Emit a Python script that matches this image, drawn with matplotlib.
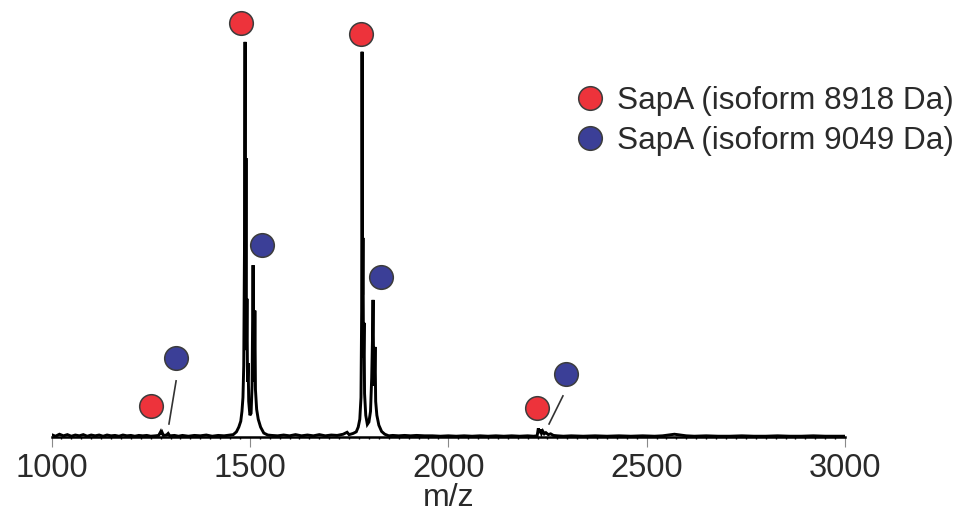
import matplotlib
matplotlib.use('Agg')
import matplotlib.pyplot as plt
from matplotlib.lines import Line2D
from matplotlib.ticker import MultipleLocator

plt.rcParams['font.family'] = ['Liberation Sans', 'DejaVu Sans']

# baseline (m/z, relative intensity)
base_mz = [1000, 1010, 1020, 1030, 1040, 1050, 1060, 1070, 1080, 1090, 1100, 1110, 1120,
           1130, 1140, 1150, 1160, 1170, 1180, 1190, 1200, 1210, 1220, 1230, 1240, 1250,
           1330, 1345, 1360, 1375, 1390, 1405, 1420, 1435, 1450,
           1555, 1570, 1585, 1600, 1615, 1630, 1645, 1660, 1675, 1690, 1705, 1720, 1735, 1745, 1750,
           1860, 1875, 1890, 1905, 1920, 1940, 1960, 1980, 2000, 2020, 2040, 2060, 2080, 2100,
           2120, 2140, 2160, 2180, 2200, 2215,
           2290, 2310, 2340, 2370, 2400, 2430, 2460, 2490, 2520, 2540, 2555, 2570, 2585, 2600,
           2620, 2650, 2680, 2710, 2740, 2770, 2800, 2830, 2860, 2890, 2920, 2950, 2980, 3000]
base_int = [0.6, 0.2, 0.7, 0.3, 0.6, 0.2, 0.5, 0.3, 0.6, 0.2, 0.5, 0.3, 0.5,
            0.2, 0.5, 0.3, 0.4, 0.2, 0.5, 0.3, 0.4, 0.2, 0.4, 0.3, 0.4, 0.2,
            0.4, 0.2, 0.4, 0.3, 0.5, 0.2, 0.4, 0.3, 0.5,
            0.4, 0.3, 0.5, 0.3, 0.6, 0.3, 0.5, 0.3, 0.6, 0.3, 0.5, 0.4, 0.7, 1.2, 0.6,
            0.4, 0.3, 0.4, 0.3, 0.4, 0.3, 0.3, 0.2, 0.3, 0.2, 0.3, 0.2, 0.3, 0.2,
            0.3, 0.2, 0.3, 0.2, 0.3, 0.2,
            0.2, 0.3, 0.2, 0.3, 0.2, 0.3, 0.2, 0.3, 0.2, 0.3, 0.5, 0.7, 0.5, 0.3,
            0.2, 0.3, 0.2, 0.2, 0.3, 0.2, 0.2, 0.3, 0.2, 0.2, 0.3, 0.2, 0.2, 0.2]

# z=7 ions
z7_mz = [1262, 1270, 1275, 1277, 1279, 1282, 1290, 1294, 1298, 1310, 1320]
z7_int = [0.3, 0.4, 1.3, 0.6, 1.1, 0.4, 0.5, 0.9, 0.3, 0.4, 0.2]

# z=6 ions
z6_mz = [1458, 1466, 1472, 1477, 1480, 1482.5, 1484.5, 1486.5, 1487.8, 1489.0, 1490.2,
         1491.3, 1492.6, 1494.0, 1495.5, 1497.0, 1500.0, 1503.0, 1505.5, 1507.0, 1508.0,
         1509.5, 1511.0, 1512.5, 1514.0, 1517.0, 1521.0, 1527.0, 1535.0, 1545.0]
z6_int = [0.6, 1.3, 2.5, 4.0, 6.5, 10.0, 18.0, 50.0, 100.0, 32.0, 70.6,
          22.0, 35.0, 14.0, 18.7, 9.0, 5.5, 6.0, 13.0, 30.0, 43.5,
          22.0, 14.0, 32.0, 12.0, 7.0, 4.5, 2.5, 1.0, 0.5]

# z=5 ions
z5_mz = [1760, 1768, 1773, 1777, 1780, 1781.7, 1782.7, 1784.0, 1785.0, 1786.3, 1787.7,
         1789.0, 1792.0, 1796.0, 1800.0, 1804.0, 1807.0, 1809.0, 1810.4, 1812.0, 1813.5,
         1815.4, 1817.0, 1820.0, 1825.0, 1832.0, 1840.0, 1850.0]
z5_int = [0.9, 1.3, 2.5, 4.5, 10.0, 32.0, 97.5, 36.0, 50.4, 20.0, 28.9,
          11.0, 5.5, 3.2, 3.8, 6.5, 15.0, 25.0, 34.7, 16.0, 13.0,
          22.8, 9.0, 5.5, 3.0, 1.4, 0.7, 0.3]

# z=4 ions
z4_mz = [2224, 2227, 2229, 2232, 2235, 2238, 2242, 2246, 2252, 2258, 2265, 2275]
z4_int = [0.3, 2.2, 1.0, 1.9, 0.9, 1.5, 0.8, 1.1, 0.6, 0.8, 0.4, 0.3]

# peak label positions (m/z, intensity)
red_mz = [1251, 1478, 1780, 2224]
red_y = [7.8, 104.8, 102.0, 7.3]
blue_mz = [1314, 1531, 1831, 2297]
blue_y = [20.0, 48.6, 40.5, 16.0]
leader_mz = [(1314, 1296), (2289, 2254)]
leader_y = [(14.2, 3.3), (10.4, 3.3)]

legend_labels = ['SapA (isoform 8918 Da)', 'SapA (isoform 9049 Da)']
red = '#ed333b'
blue = '#3b3f97'
edge = '#3c3c3c'

pts = sorted(zip(base_mz + z7_mz + z6_mz + z5_mz + z4_mz,
                 base_int + z7_int + z6_int + z5_int + z4_int))
mz = [p[0] for p in pts]
inten = [p[1] for p in pts]

fig = plt.figure(figsize=(9.63, 5.14), dpi=100)
ax = fig.add_axes([0.0535, 0.1498, 0.824, 0.8502])

ax.plot(mz, inten, color='black', lw=2.1, solid_joinstyle='miter')

for (x0, x1), (y0, y1) in zip(leader_mz, leader_y):
    ax.plot([x0, x1], [y0, y1], color='#333333', lw=1.2)

ax.plot(red_mz, red_y, 'o', ms=17, mfc=red, mec=edge, mew=1.1, clip_on=False, zorder=5)
ax.plot(blue_mz, blue_y, 'o', ms=17, mfc=blue, mec=edge, mew=1.1, clip_on=False, zorder=5)

ax.set_xlim(1000, 3000)
ax.set_ylim(0, 110.6)
for s in ['left', 'right', 'top']:
    ax.spines[s].set_visible(False)
ax.spines['bottom'].set_linewidth(1.8)
ax.set_yticks([])

ax.xaxis.set_major_locator(MultipleLocator(500))
ax.xaxis.set_minor_locator(MultipleLocator(25))
ax.tick_params(axis='x', which='major', direction='out', length=7.5, width=0.8,
               color='#8a8a8a', labelsize=23.5, labelcolor='#2a2a2a', pad=4)
ax.tick_params(axis='x', which='minor', direction='out', length=1.5, width=1.0, color='black')
ax.set_xlabel('m/z', fontsize=23, color='#2a2a2a', labelpad=-1)

handles = [Line2D([], [], ls='none', marker='o', ms=17, mfc=c, mec=edge, mew=1.1)
           for c in [red, blue]]
fig.legend(handles, legend_labels, loc='upper left', bbox_to_anchor=(0.600, 0.832),
           frameon=False, fontsize=22.7, handlelength=0.75, handletextpad=0.5,
           labelspacing=0.32, borderpad=0, borderaxespad=0, labelcolor='#2a2a2a')

fig.savefig('out.png', dpi=100)
